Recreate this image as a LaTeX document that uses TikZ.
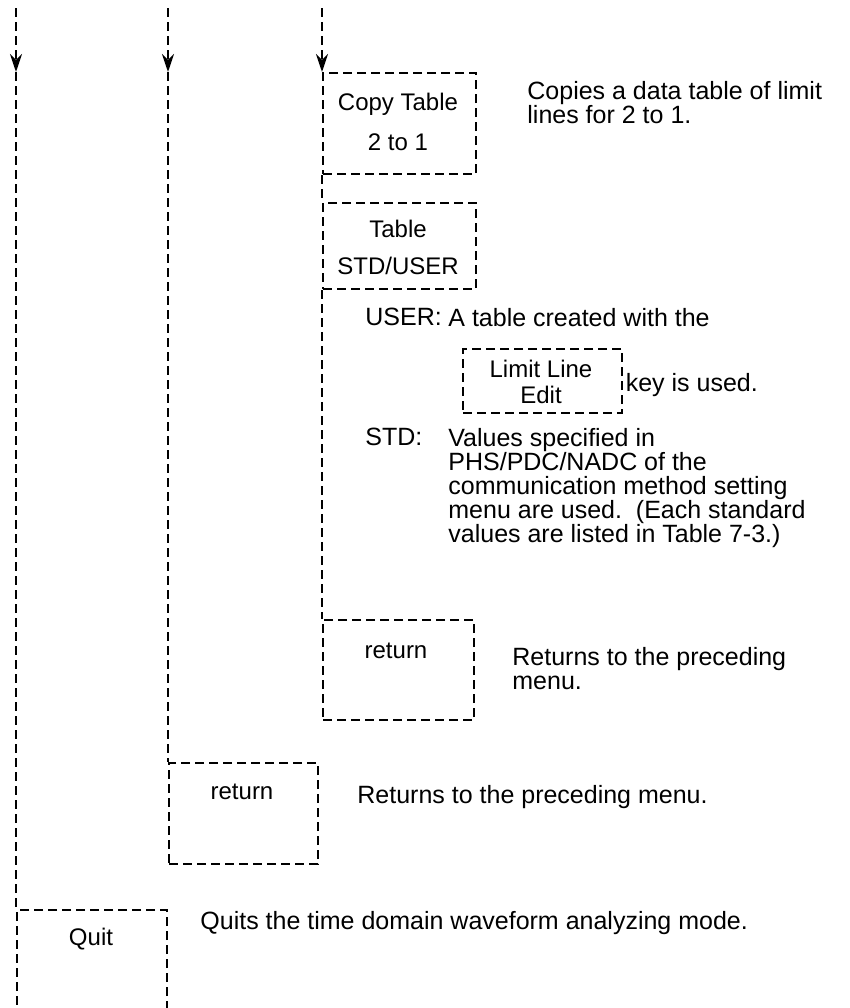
\documentclass[tikz,border=0pt]{standalone}
\usepackage{fontspec}
\setmainfont{Liberation Sans}
\usetikzlibrary{arrows.meta, positioning}

\tikzset{
  menuline/.style={line width=1.2pt, dash pattern=on 4.5pt off 2.5pt},
  keybox/.style={draw, menuline, rectangle, inner sep=0pt, anchor=north west},
  keytext/.style={font=\fontsize{12}{14}\selectfont, anchor=mid, inner sep=0pt},
  notetext/.style={font=\fontsize{12.5}{12}\selectfont, anchor=north west, align=left, inner sep=0pt},
  downarrow/.style={-{Stealth[length=9pt, width=6pt, inset=3pt]}}
}

\begin{document}
\begin{tikzpicture}[x=0.5pt, y=-0.5pt]
\useasboundingbox (0,0) rectangle (850,1008);
\clip (0,0) rectangle (850,1008);

% soft keys
\node[keybox, minimum width=76.5pt, minimum height=50.5pt] (copy) at (322,72) {};
\node[keybox, minimum width=76.5pt, minimum height=43pt] (table) at (322,202) {};
\node[keybox, minimum width=79.5pt, minimum height=32pt] (limit) at (462,348) {};
\node[keybox, minimum width=75.5pt, minimum height=50pt] (ret1) at (322,619) {};
\node[keybox, minimum width=74.5pt, minimum height=50.5pt] (ret2) at (168,762) {};
\node[keybox, minimum width=75pt, minimum height=66pt] (quit) at (16,909) {};

% key labels
\node[keytext] (copyA) at (398,105) {Copy Table};
\node[keytext] (copyB) at (398,145) {2 to 1};
\node[keytext] (tableA) at (398,232) {Table};
\node[keytext] (tableB) at (398,269) {STD/USER};
\node[keytext] (limitA) at (541,372) {Limit Line};
\node[keytext] (limitB) at (541,398) {Edit};
\node[keytext] (ret1T) at (396,653) {return};
\node[keytext] (ret2T) at (242,794) {return};
\node[keytext] (quitT) at (91,940) {Quit};

% menu flow lines
\coordinate (top1) at (16,8);
\coordinate (arr1) at (16,72);
\coordinate (top2) at (168,8);
\coordinate (arr2) at (168,72);
\coordinate (top3) at (322,8);

\draw[menuline, downarrow] (top1) -- (arr1);
\draw[menuline] (arr1) -- (quit.north west);
\draw[menuline, downarrow] (top2) -- (arr2);
\draw[menuline] (arr2) -- (ret2.north west);
\draw[menuline, downarrow] (top3) -- (copy.north west);
\draw[menuline] (copy.south west) -- (table.north west);
\draw[menuline] (table.south west) -- (ret1.north west);

% descriptions
\node[notetext] (copyN) at (527,81) {Copies a data table of limit\\lines for 2 to 1.};
\node[notetext] (userL) at (365,308) {USER:};
\node[notetext] (userN) at (448,308) {A table created with the};
\node[notetext, anchor=west] (keyN) at ([xshift=1pt, yshift=-2pt]limit.east) {key is used.};
\node[notetext] (stdL) at (365,428) {STD:};
\node[notetext] (stdN) at (448,428) {Values specified in\\PHS/PDC/NADC of the\\communication method setting\\menu are used.\ \ (Each standard\\values are listed in Table 7-3.)};
\node[notetext] (ret1N) at (512,647) {Returns to the preceding\\menu.};
\node[notetext] (ret2N) at (357,785) {Returns to the preceding menu.};
\node[notetext] (quitN) at (200,911) {Quits the time domain waveform analyzing mode.};

\end{tikzpicture}
\end{document}
